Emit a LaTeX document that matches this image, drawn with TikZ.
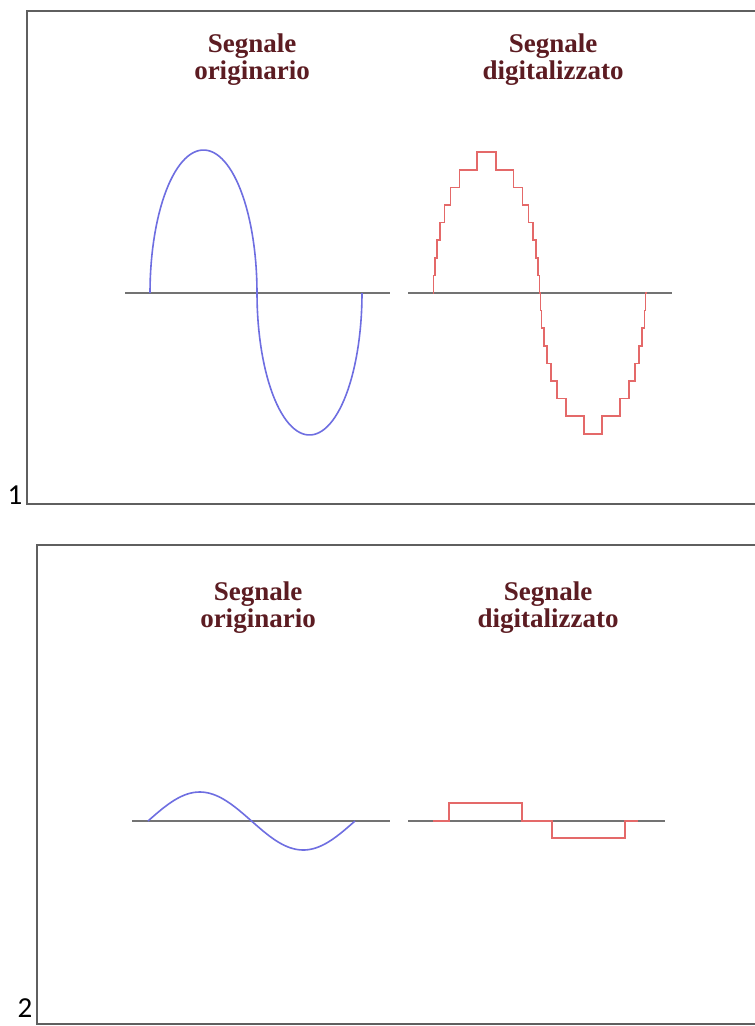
\documentclass[tikz,border=0pt]{standalone}
\usepackage{fontspec}
\setmainfont{Liberation Serif}
\newfontfamily\numfont{Carlito}
\usetikzlibrary{positioning}
\definecolor{FrameGray}{RGB}{95,95,95}
\definecolor{AxisGray}{RGB}{115,115,115}
\definecolor{WaveBlue}{RGB}{110,110,225}
\definecolor{StepRed}{RGB}{228,105,105}
\definecolor{TitleRed}{RGB}{92,28,34}

\begin{document}
\begin{tikzpicture}[x=1pt,y=-1pt,
    frame/.style={FrameGray,line width=2.4pt},
    axis/.style={AxisGray,line width=2.2pt},
    sig/.style={WaveBlue,line width=1.6pt},
    dig/.style={StepRed,line width=1.6pt},
    title/.style={TitleRed,font=\bfseries\fontsize{27}{27}\selectfont,align=center,inner sep=0pt},
    num/.style={font=\numfont\fontsize{29}{29}\selectfont,inner sep=0pt,anchor=base}]
  \useasboundingbox (0,0) rectangle (755,1026);
  \clip (0,0) rectangle (755,1026);
  \fill[white] (0,0) rectangle (755,1026);

  % riquadro 1
  \draw[frame] (27,11) rectangle (790,504);
  \node[num] (n1) at (15,504) {1};
  \node[title] (orig1) at (252,60) {Segnale\\originario};
  \node[title] (digi1) at (553,60) {Segnale\\digitalizzato};
  \draw[axis] (125,293) -- (390,293);
  \draw[axis] (408,293) -- (672,293);
  \draw[sig] plot[domain=180:0,samples=60] ({203.5+53.5*cos(\x)},{293-143*sin(\x)})
    -- plot[domain=180:360,samples=60] ({309.5+52.5*cos(\x)},{293-142*sin(\x)});
  \draw[dig] (433,293)
    \foreach \k in {1,...,8}{
      -- ({486.5-53.3*sqrt(1-(\k*17.6/143)^2)},{293-(\k-1)*17.6})
      -- ({486.5-53.3*sqrt(1-(\k*17.6/143)^2)},{293-\k*17.6})}
    \foreach \k in {8,...,1}{
      -- ({486.5+53.3*sqrt(1-(\k*17.6/143)^2)},{293-\k*17.6})
      -- ({486.5+53.3*sqrt(1-(\k*17.6/143)^2)},{293-(\k-1)*17.6})}
    \foreach \k in {1,...,8}{
      -- ({593-53*sqrt(1-(\k*17.6/143)^2)},{293+(\k-1)*17.6})
      -- ({593-53*sqrt(1-(\k*17.6/143)^2)},{293+\k*17.6})}
    \foreach \k in {8,...,1}{
      -- ({593+53*sqrt(1-(\k*17.6/143)^2)},{293+\k*17.6})
      -- ({593+53*sqrt(1-(\k*17.6/143)^2)},{293+(\k-1)*17.6})}
    -- (646,293);

  % riquadro 2
  \draw[frame] (37,545) rectangle (790,1024);
  \node[num] (n2) at (25,1017) {2};
  \node[title] (orig2) at (258,608) {Segnale\\originario};
  \node[title] (digi2) at (548,608) {Segnale\\digitalizzato};
  \draw[axis] (132,821) -- (390,821);
  \draw[axis] (408,821) -- (665,821);
  \draw[sig] plot[domain=0:360,samples=80] ({148+\x/360*207},{821-29*sin(\x)});
  \draw[dig] (433,821) -- (449,821) -- (449,803) -- (522,803) -- (522,821)
    -- (552,821) -- (552,838) -- (625,838) -- (625,821) -- (638,821);
\end{tikzpicture}
\end{document}
